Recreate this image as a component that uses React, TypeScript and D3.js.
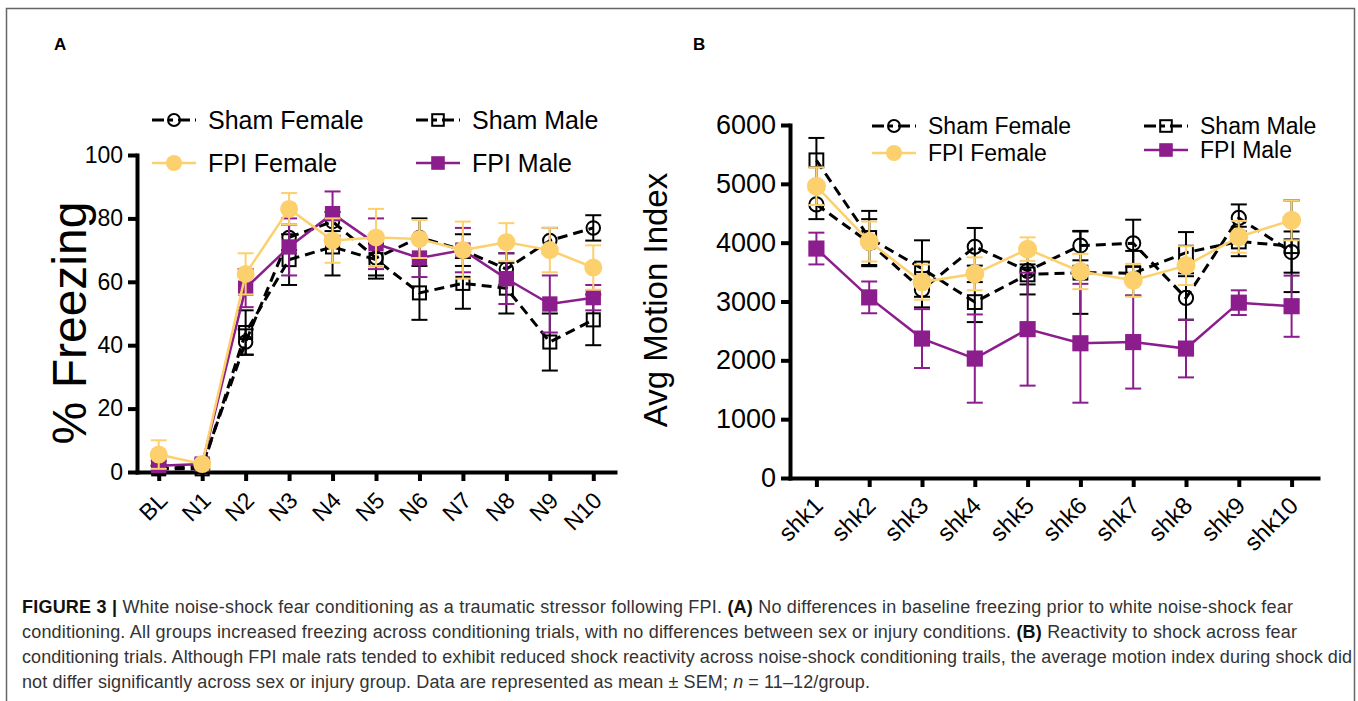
import { useEffect, useRef } from 'react';
import * as d3 from 'd3';

// Panel A: % freezing across conditioning trials
const trialLabels = ['BL', 'N1', 'N2', 'N3', 'N4', 'N5', 'N6', 'N7', 'N8', 'N9', 'N10'];
const shamFemaleA = [1, 2, 41, 74, 79, 67.5, 74, 70, 64, 73, 77];
const shamFemaleAErr = [1, 1, 4, 4, 3, 6.5, 6, 5, 5, 4, 4];
const shamMaleA = [1, 1, 44, 67, 71, 67, 56.5, 59.5, 58, 41, 48];
const shamMaleAErr = [1, 1, 7, 8, 9, 5, 8.5, 8, 8, 9, 8];
const fpiFemaleA = [5.5, 2.5, 62.5, 83, 73, 74, 73.5, 70, 72.5, 70, 64.5];
const fpiFemaleAErr = [4.5, 1, 6.5, 5, 7, 9, 6, 9, 6, 7, 7];
const fpiMaleA = [2, 2.5, 58, 71, 81.5, 72, 67.5, 70, 61, 53, 55];
const fpiMaleAErr = [1.5, 1.5, 6, 9, 7, 8, 6, 7, 8, 9, 4];

// Panel B: motion index during each shock
const shockLabels = ['shk1', 'shk2', 'shk3', 'shk4', 'shk5', 'shk6', 'shk7', 'shk8', 'shk9', 'shk10'];
const shamFemaleB = [4650, 4000, 3200, 3930, 3520, 3950, 3990, 3060, 4420, 3840];
const shamFemaleBErr = [250, 400, 300, 320, 400, 250, 400, 370, 230, 350];
const shamMaleB = [5400, 4080, 3560, 2990, 3460, 3490, 3480, 3830, 4020, 3940];
const shamMaleBErr = [380, 460, 480, 340, 170, 700, 380, 350, 250, 780];
const fpiFemaleB = [4960, 4020, 3330, 3470, 3890, 3510, 3360, 3610, 4100, 4380];
const fpiFemaleBErr = [320, 340, 300, 280, 200, 300, 280, 330, 270, 340];
const fpiMaleB = [3900, 3070, 2370, 2030, 2530, 2290, 2310, 2200, 2980, 2920];
const fpiMaleBErr = [270, 270, 500, 750, 960, 1010, 790, 490, 210, 520];

const captionLines = [
  [['b', 'FIGURE 3 | '], ['n', 'White noise-shock fear conditioning as a traumatic stressor following FPI. '], ['b', '(A)'], ['n', ' No differences in baseline freezing prior to white noise-shock fear']],
  [['n', 'conditioning. All groups increased freezing across conditioning trials, with no differences between sex or injury conditions. '], ['b', '(B)'], ['n', ' Reactivity to shock across fear']],
  [['n', 'conditioning trials. Although FPI male rats tended to exhibit reduced shock reactivity across noise-shock conditioning trails, the average motion index during shock did']],
  [['n', 'not differ significantly across sex or injury group. Data are represented as mean ± SEM; '], ['i', 'n'], ['n', ' = 11–12/group.']],
];
const captionWidths = [1271, 1275, 1330, 848];

const YELLOW = '#FDD06E';
const PURPLE = '#8C1D8C';
const FONT = '"Liberation Sans", Arial, Helvetica, sans-serif';

type Style = { label: string; color: string; dashed: boolean; shape: 'circle' | 'square'; filled: boolean };

const shamFemaleStyle: Style = { label: 'Sham Female', color: '#000', dashed: true, shape: 'circle', filled: false };
const shamMaleStyle: Style = { label: 'Sham Male', color: '#000', dashed: true, shape: 'square', filled: false };
const fpiFemaleStyle: Style = { label: 'FPI Female', color: YELLOW, dashed: false, shape: 'circle', filled: true };
const fpiMaleStyle: Style = { label: 'FPI Male', color: PURPLE, dashed: false, shape: 'square', filled: true };

function marker(g: any, style: Style, cx: number, cy: number, big: number) {
  if (style.shape === 'circle') {
    const r = style.filled ? big : big * 0.75;
    g.append('circle')
      .attr('cx', cx).attr('cy', cy).attr('r', r)
      .attr('fill', style.filled ? style.color : 'none')
      .attr('stroke', style.color)
      .attr('stroke-width', style.filled ? 0 : 2);
  } else {
    const s = style.filled ? big * 1.7 : big * 1.45;
    g.append('rect')
      .attr('x', cx - s / 2).attr('y', cy - s / 2).attr('width', s).attr('height', s)
      .attr('fill', style.filled ? style.color : 'none')
      .attr('stroke', style.color)
      .attr('stroke-width', style.filled ? 0 : 2);
  }
}

function drawPanel(svg: any, opts: any) {
  const { labels, series, yMax, yTickVals, xRange, yRange, tickFont, labelFont, labelOffset, r } = opts;
  const x = d3.scalePoint<string>().domain(labels).range(xRange).padding(0.5);
  const y = d3.scaleLinear().domain([0, yMax]).range(yRange);
  const g = svg.append('g');

  const yAxis = g.append('g')
    .attr('transform', `translate(${xRange[0]},0)`)
    .call(d3.axisLeft(y).tickValues(yTickVals).tickFormat(d3.format('d')).tickSize(9).tickSizeOuter(0).tickPadding(5));
  const xAxis = g.append('g')
    .attr('transform', `translate(0,${yRange[0]})`)
    .call(d3.axisBottom(x).tickSize(9).tickSizeOuter(0).tickFormat(() => ''));

  [yAxis, xAxis].forEach((a) => {
    a.select('.domain').attr('stroke', '#000').attr('stroke-width', 4).attr('stroke-linecap', 'square');
    a.selectAll('.tick line').attr('stroke', '#000').attr('stroke-width', 4);
  });
  yAxis.selectAll('.tick text')
    .attr('font-family', FONT).attr('font-size', tickFont).attr('fill', '#000');

  g.append('g').selectAll('text')
    .data(labels)
    .join('text')
    .attr('transform', (d: string) => `translate(${(x(d) as number) + labelOffset[0]},${yRange[0] + labelOffset[1]}) rotate(-45)`)
    .attr('text-anchor', 'end')
    .attr('font-family', FONT)
    .attr('font-size', labelFont)
    .attr('fill', '#000')
    .text((d: string) => d);

  series.forEach(({ values, errs, style }: any) => {
    const sg = g.append('g');
    const pts = values.map((v: number, i: number) => [x(labels[i]) as number, y(v)]);
    sg.append('path')
      .attr('d', d3.line()(pts))
      .attr('fill', 'none')
      .attr('stroke', style.color)
      .attr('stroke-width', style.dashed ? 3 : 2.5)
      .attr('stroke-dasharray', style.dashed ? '10 6' : null);
    values.forEach((v: number, i: number) => {
      const cx = x(labels[i]) as number;
      const lo = y(Math.max(0, v - errs[i]));
      const hi = y(v + errs[i]);
      sg.append('line').attr('x1', cx).attr('x2', cx).attr('y1', lo).attr('y2', hi)
        .attr('stroke', style.color).attr('stroke-width', 2);
      [lo, hi].forEach((yy) => {
        sg.append('line').attr('x1', cx - 8).attr('x2', cx + 8).attr('y1', yy).attr('y2', yy)
          .attr('stroke', style.color).attr('stroke-width', 2);
      });
      marker(sg, style, cx, y(v), r);
    });
  });
}

function drawLegend(svg: any, items: any[], fontSize: number, r: number) {
  const g = svg.append('g');
  items.forEach(({ style, x, y }) => {
    const x0 = x - 56;
    const x1 = x - 12;
    g.append('line')
      .attr('x1', x0).attr('x2', x1).attr('y1', y).attr('y2', y)
      .attr('stroke', style.color)
      .attr('stroke-width', style.dashed ? 3 : 2.5)
      .attr('stroke-dasharray', style.dashed ? '12 5 4 5' : null);
    marker(g, style, (x0 + x1) / 2, y, r);
    g.append('text')
      .attr('x', x).attr('y', y)
      .attr('dy', '0.35em')
      .attr('font-family', FONT)
      .attr('font-size', fontSize)
      .attr('fill', '#000')
      .text(style.label);
  });
}

export default function App() {
  const svgRef = useRef<SVGSVGElement>(null);

  useEffect(() => {
    const svg = d3.select(svgRef.current);
    svg.selectAll('*').remove();

    svg.append('rect')
      .attr('x', 6.5).attr('y', 8.5).attr('width', 1348).attr('height', 760)
      .attr('fill', '#fff').attr('stroke', '#666').attr('stroke-width', 1.5);

    svg.append('text').attr('x', 54).attr('y', 50).attr('font-family', FONT)
      .attr('font-weight', 'bold').attr('font-size', 17).text('A');
    svg.append('text').attr('x', 693).attr('y', 50).attr('font-family', FONT)
      .attr('font-weight', 'bold').attr('font-size', 17).text('B');

    // Panel A
    drawPanel(svg, {
      labels: trialLabels,
      series: [
        { values: shamFemaleA, errs: shamFemaleAErr, style: shamFemaleStyle },
        { values: shamMaleA, errs: shamMaleAErr, style: shamMaleStyle },
        { values: fpiMaleA, errs: fpiMaleAErr, style: fpiMaleStyle },
        { values: fpiFemaleA, errs: fpiFemaleAErr, style: fpiFemaleStyle },
      ],
      yMax: 100,
      yTickVals: [0, 20, 40, 60, 80, 100],
      xRange: [137, 615],
      yRange: [472, 155],
      tickFont: 23,
      labelFont: 23,
      labelOffset: [10, 30],
      r: 9,
    });
    svg.append('text')
      .attr('transform', 'translate(86,323) rotate(-90)')
      .attr('text-anchor', 'middle')
      .attr('font-family', FONT).attr('font-size', 48)
      .text('% Freezing');
    drawLegend(svg, [
      { style: shamFemaleStyle, x: 208, y: 120 },
      { style: shamMaleStyle, x: 472, y: 120 },
      { style: fpiFemaleStyle, x: 208, y: 163 },
      { style: fpiMaleStyle, x: 472, y: 163 },
    ], 25, 8);

    // Panel B
    drawPanel(svg, {
      labels: shockLabels,
      series: [
        { values: shamFemaleB, errs: shamFemaleBErr, style: shamFemaleStyle },
        { values: shamMaleB, errs: shamMaleBErr, style: shamMaleStyle },
        { values: fpiMaleB, errs: fpiMaleBErr, style: fpiMaleStyle },
        { values: fpiFemaleB, errs: fpiFemaleBErr, style: fpiFemaleStyle },
      ],
      yMax: 6000,
      yTickVals: [0, 1000, 2000, 3000, 4000, 5000, 6000],
      xRange: [790, 1318],
      yRange: [478, 125],
      tickFont: 27,
      labelFont: 24,
      labelOffset: [8, 29],
      r: 9.5,
    });
    svg.append('text')
      .attr('transform', 'translate(667,300) rotate(-90)')
      .attr('text-anchor', 'middle')
      .attr('font-family', FONT).attr('font-size', 33)
      .text('Avg Motion Index');
    drawLegend(svg, [
      { style: shamFemaleStyle, x: 928, y: 126 },
      { style: shamMaleStyle, x: 1200, y: 126 },
      { style: fpiFemaleStyle, x: 928, y: 153 },
      { style: fpiMaleStyle, x: 1200, y: 150 },
    ], 23, 8);

    // Caption
    const cap = svg.append('g');
    captionLines.forEach((line, i) => {
      const t = cap.append('text')
        .attr('x', 22).attr('y', 613 + i * 25)
        .attr('textLength', captionWidths[i])
        .attr('lengthAdjust', 'spacing')
        .attr('font-family', FONT).attr('font-size', 18).attr('fill', '#333');
      line.forEach(([kind, str]) => {
        t.append('tspan')
          .attr('font-weight', kind === 'b' ? 'bold' : null)
          .attr('font-style', kind === 'i' ? 'italic' : null)
          .attr('fill', kind === 'b' ? '#111' : null)
          .text(str);
      });
    });
  }, []);

  return (
    <svg ref={svgRef} width={1358} height={701} viewBox="0 0 1358 701"
      style={{ position: 'absolute', left: 0, top: 0, background: '#fff' }} />
  );
}
